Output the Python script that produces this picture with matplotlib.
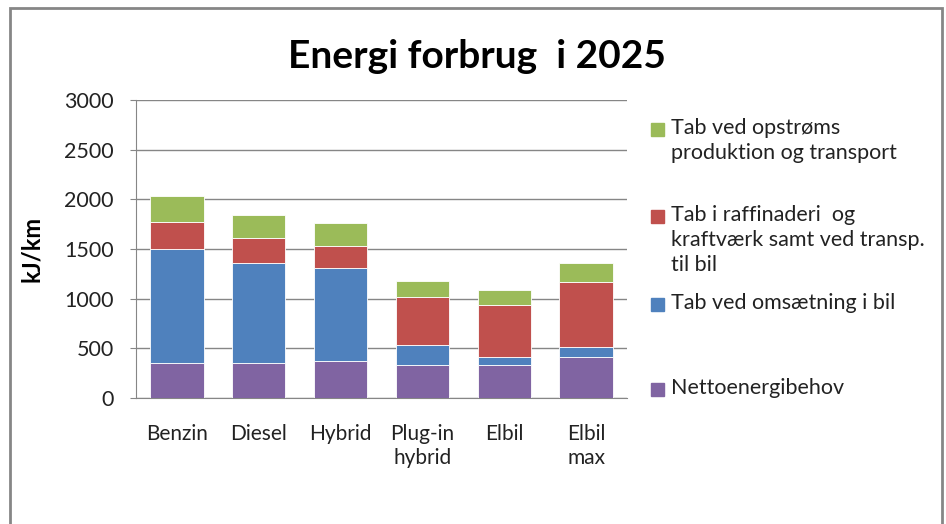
import matplotlib
matplotlib.use("Agg")
import matplotlib.pyplot as plt
from matplotlib.patches import Rectangle
import numpy as np

plt.rcParams['font.family'] = ['Lato', 'DejaVu Sans']

# data (kJ/km)
categories = ["Benzin", "Diesel", "Hybrid", "Plug-in\nhybrid", "Elbil", "Elbil\nmax"]
netto = [352, 352, 375, 328, 328, 410]
omsaetning = [1150, 1012, 930, 208, 84, 103]
raffinaderi = [268, 242, 225, 480, 524, 654]
opstroms = [268, 235, 231, 161, 151, 197]

series = [netto, omsaetning, raffinaderi, opstroms]
colors = ["#8064A2", "#4F81BD", "#C0504D", "#9BBB59"]
labels = ["Nettoenergibehov",
          "Tab ved omsætning i bil",
          "Tab i raffinaderi  og\nkraftværk samt ved transp.\ntil bil",
          "Tab ved opstrøms\nproduktion og transport"]

fig = plt.figure(figsize=(9.46, 5.24), dpi=100)
ax = fig.add_axes([136/946, 1-398/524, (627-136)/946, (398-100)/524])

x = np.arange(len(categories))
bottom = np.zeros(len(categories))
for vals, col in zip(series, colors):
    ax.bar(x, vals, 0.65, bottom=bottom, color=col, edgecolor="white", linewidth=0.6, zorder=3)
    bottom += np.array(vals)

ax.set_xlim(-0.5, len(categories) - 0.5)
ax.set_ylim(0, 3000)
ax.set_yticks(np.arange(0, 3001, 500))
ax.set_xticks(x)
ax.set_xticklabels(categories, fontsize=15, color="#222222", linespacing=1.2, va="top")
ax.tick_params(axis="x", length=0, pad=19)
ax.tick_params(axis="y", labelsize=15.5, labelcolor="#222222", length=4, color="#868686", pad=12)
ax.grid(axis="y", color="#868686", linewidth=1, zorder=0)
for s in ["top", "right"]:
    ax.spines[s].set_visible(False)
for s in ["left", "bottom"]:
    ax.spines[s].set_color("#868686")

ax.set_ylabel("kJ/km", fontsize=17, fontweight="bold", labelpad=15)
fig.text(477/946, 1-57/524, "Energi forbrug  i 2025", fontsize=28, fontweight="bold",
         ha="center", va="center")

# legend drawn by hand to keep Excel-like spacing (top entry first)
leg_y = [130, 217, 305, 390]
for lab, col, yy in zip(labels[::-1], colors[::-1], leg_y):
    fig.patches.append(Rectangle((651/946, 1-(yy+6)/524), 13/946, 13/524,
                                 transform=fig.transFigure, color=col))
    fig.text(671/946, 1-(yy-12)/524, lab, fontsize=15.5, color="#222222",
             va="top", ha="left", linespacing=1.3)

# outer chart border
fig.patches.append(Rectangle((10/946, -0.1), 932/946, 1.1 - 8/524, transform=fig.transFigure,
                             fill=False, edgecolor="#868686", linewidth=2))

fig.savefig("out.png", dpi=100)
